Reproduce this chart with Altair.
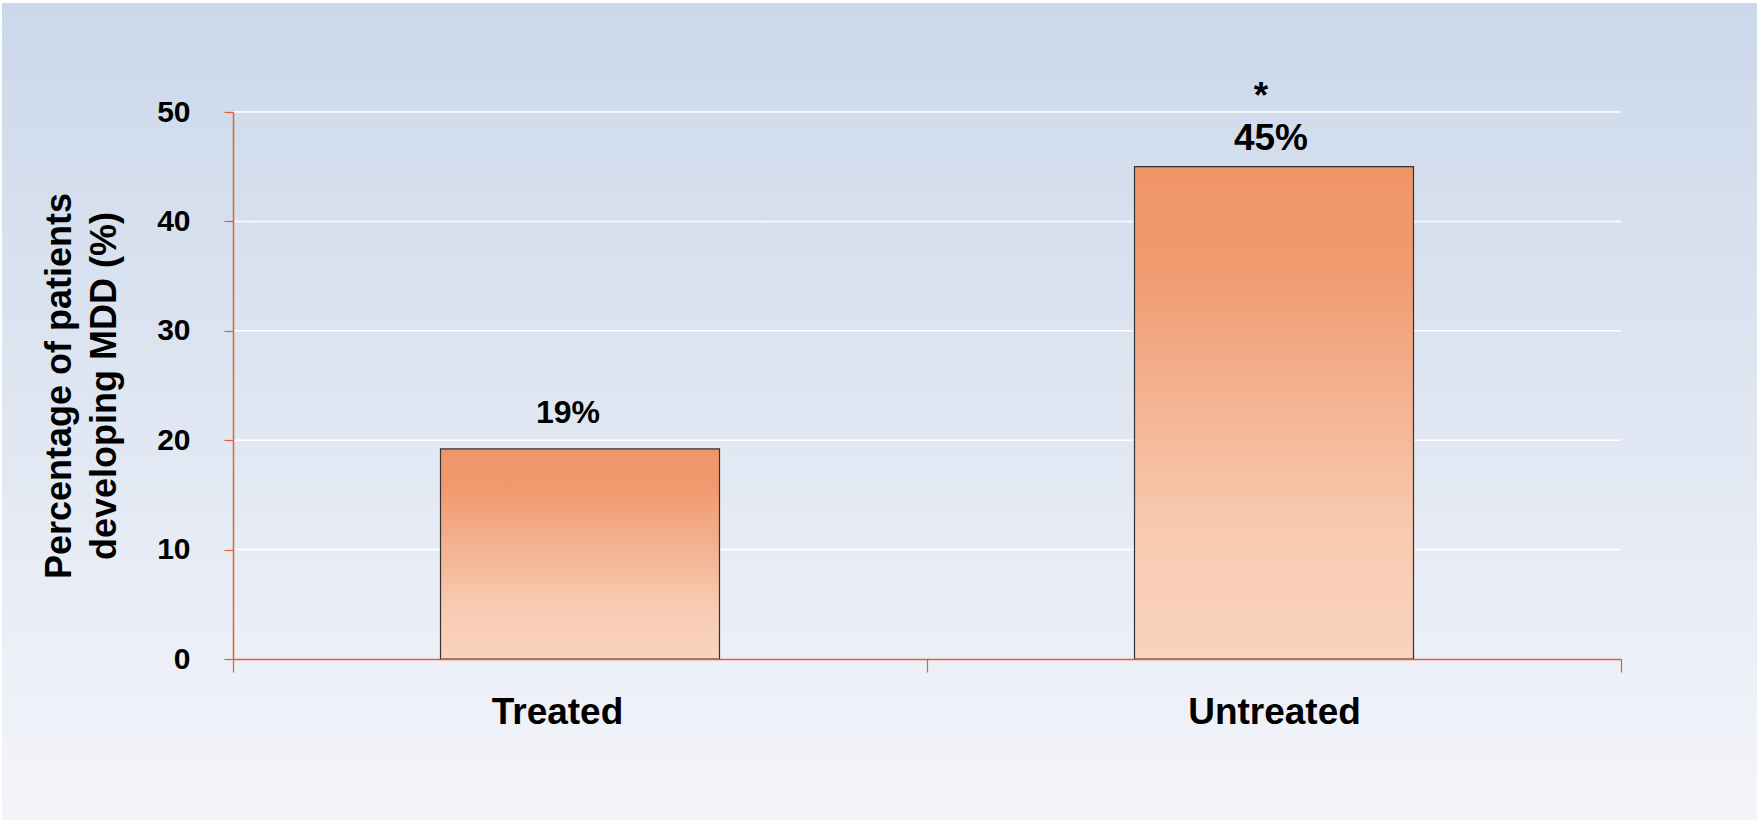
import altair as alt
import pandas as pd

# ---- data ----
groups = ["Treated", "Untreated"]
values = [19.2, 45.0]
labels = ["19%", "45%"]
notes = ["", "*"]
y_ticks = [0, 10, 20, 30, 40, 50]
grid_ticks = [10, 20, 30, 40, 50]

W, H = 1388, 547
PAD = {"left": 233, "top": 112, "right": 136, "bottom": 161}

FONT = "Liberation Sans"
AXIS_COLOR = "#e2622c"

df = pd.DataFrame({"group": groups, "value": values, "label": labels, "note": notes})
grid_df = pd.DataFrame({"value": grid_ticks})
bg_df = pd.DataFrame({"k": [0]})

bg_gradient = alt.LinearGradient(
    gradient="linear",
    stops=[alt.GradientStop(offset=0, color="#cbd8ea"),
           alt.GradientStop(offset=1, color="#f4f5fa")],
    x1=0, x2=0, y1=0, y2=1,
)
bar_gradient = alt.LinearGradient(
    gradient="linear",
    stops=[alt.GradientStop(offset=0, color="#f0956a"),
           alt.GradientStop(offset=0.2, color="#f09a70"),
           alt.GradientStop(offset=0.75, color="#f8cbb2"),
           alt.GradientStop(offset=1, color="#f9d3bd")],
    x1=0, x2=0, y1=0, y2=1,
)

x_axis = alt.Axis(
    title=None, labelAngle=0, labelFont=FONT, labelFontWeight="bold",
    labelFontSize=37, labelColor="black", labelPadding=22,
    labelOffset={"condition": {"test": "datum.value === 'Treated'", "value": -23}, "value": 0},
    domainColor=AXIS_COLOR, domainWidth=1.5, tickColor=AXIS_COLOR,
    tickSize=13, tickWidth=1.2, tickBand="extent", grid=False, zindex=1,
)
y_axis = alt.Axis(
    values=y_ticks,
    title=["Percentage of patients", "developing MDD (%)"],
    titleFont=FONT, titleFontSize=36, titleFontWeight="bold", titleColor="black",
    titleLineHeight=45, titleX=-174, titleY=H / 2, titleAngle=-90,
    titleAlign="center", titleBaseline="middle",
    labelFont=FONT, labelFontSize=30, labelFontWeight="bold", labelColor="black",
    labelPadding=34, tickSize=9, tickColor=AXIS_COLOR, tickWidth=1.2,
    domainColor=AXIS_COLOR, domainWidth=1.5, grid=False, zindex=1,
)

x_scale = alt.Scale(paddingInner=0, paddingOuter=0)
y_scale = alt.Scale(domain=[0, 50])

y_enc = alt.Y("value:Q", scale=y_scale, axis=y_axis)
x_enc = alt.X("group:N", sort=groups, scale=x_scale, axis=x_axis)

background = alt.Chart(bg_df).mark_rect(fill=bg_gradient).encode(
    x=alt.value(-231), x2=alt.value(W + PAD["right"]),
    y=alt.value(-109), y2=alt.value(H + PAD["bottom"]),
)

grid = alt.Chart(grid_df).mark_rule(color="white", strokeWidth=1.5).encode(
    y=y_enc,
)

base = alt.Chart(df)

bars = base.mark_bar(
    width={"band": 0.402}, fill=bar_gradient, stroke="#333333", strokeWidth=1.2
).encode(x=x_enc, y=y_enc)

text_treated = base.transform_filter(alt.datum.group == "Treated").mark_text(
    font=FONT, fontWeight="bold", fontSize=32, baseline="alphabetic",
    color="black", dy=-26, dx=-12,
).encode(x=x_enc, y=y_enc, text="label:N")

text_untreated = base.transform_filter(alt.datum.group == "Untreated").mark_text(
    font=FONT, fontWeight="bold", fontSize=37, baseline="alphabetic",
    color="black", dy=-17, dx=-3,
).encode(x=x_enc, y=y_enc, text="label:N")

note_text = base.mark_text(
    font=FONT, fontWeight="bold", fontSize=37, baseline="alphabetic",
    color="black", dy=-59, dx=-13,
).encode(x=x_enc, y=y_enc, text="note:N")

chart = alt.layer(
    background, grid, bars, text_treated, text_untreated, note_text
).properties(
    width=W, height=H,
    autosize=alt.AutoSizeParams(type="none"),
    padding=PAD,
    background="white",
).configure_view(stroke=None)

chart.save("out.html", embed_options={"renderer": "svg", "actions": False})
